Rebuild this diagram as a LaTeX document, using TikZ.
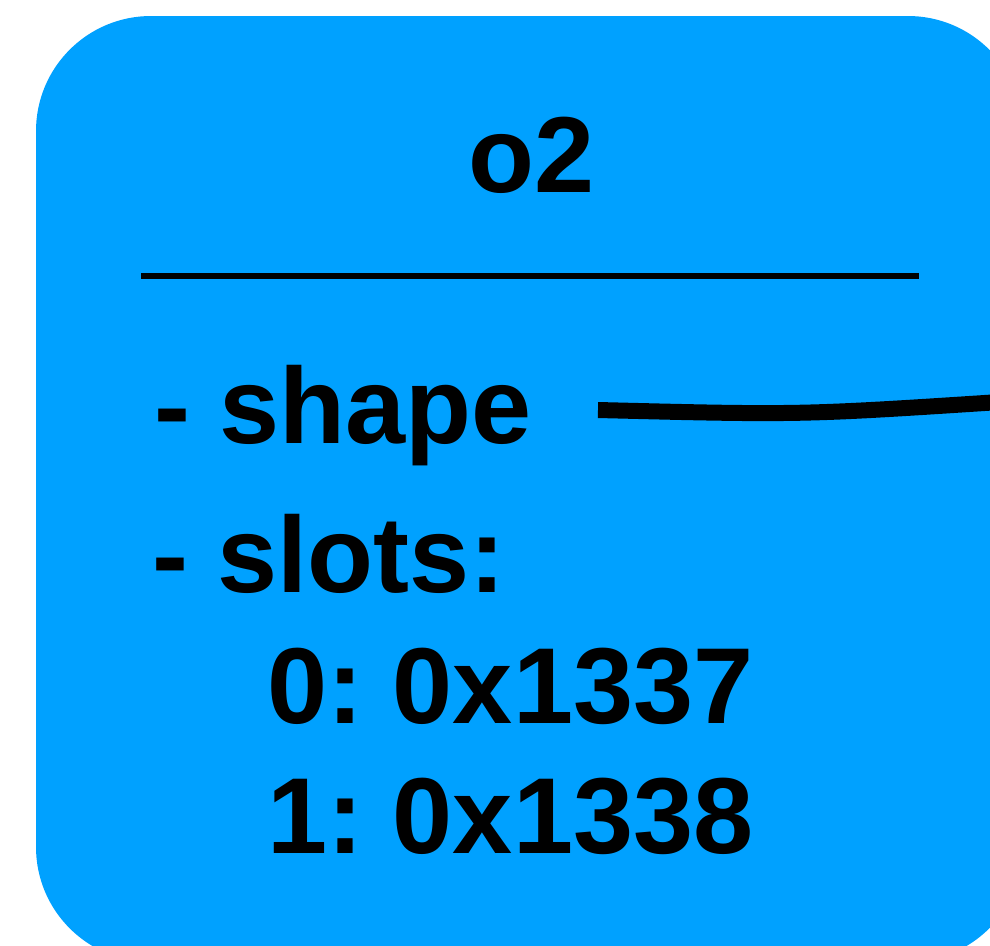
\documentclass[tikz,border=0pt]{standalone}
\usepackage{fontspec}
\setmainfont{Liberation Sans}
\definecolor{boxblue}{RGB}{0,161,255}
\frenchspacing
\begin{document}
\begin{tikzpicture}[x=1pt,y=-1pt,
  label/.style={inner sep=0pt,outer sep=0pt,font=\bfseries\fontsize{108}{120}\selectfont},
  objbox/.style={fill=boxblue,draw=none,rounded corners=115pt},
  wire/.style={line width=16pt,line cap=butt}]
\useasboundingbox (0,0) rectangle (990,945);
\clip (0,0) rectangle (990,945);
\fill[white] (0,0) rectangle (990,945);
\path[objbox] (36,16) rectangle (1023,962);
\node[label,anchor=base] (title) at (532,192) {o2};
\draw[line width=6pt] (141,276) -- (919,276);
\node[label,anchor=base west] (shape) at (154,443) {- shape};
\node[label,anchor=base west] (slots) at (152,592) {- slots:};
\node[label,anchor=base west] (slot0) at (267,723) {0: 0x1337};
\node[label,anchor=base west] (slot1) at (267,853) {1: 0x1338};
\coordinate (wireStart) at (598,410);
\coordinate (wireEnd) at (1000,402);
\draw[wire] (wireStart) .. controls (800,415) .. (wireEnd);
\end{tikzpicture}
\end{document}
